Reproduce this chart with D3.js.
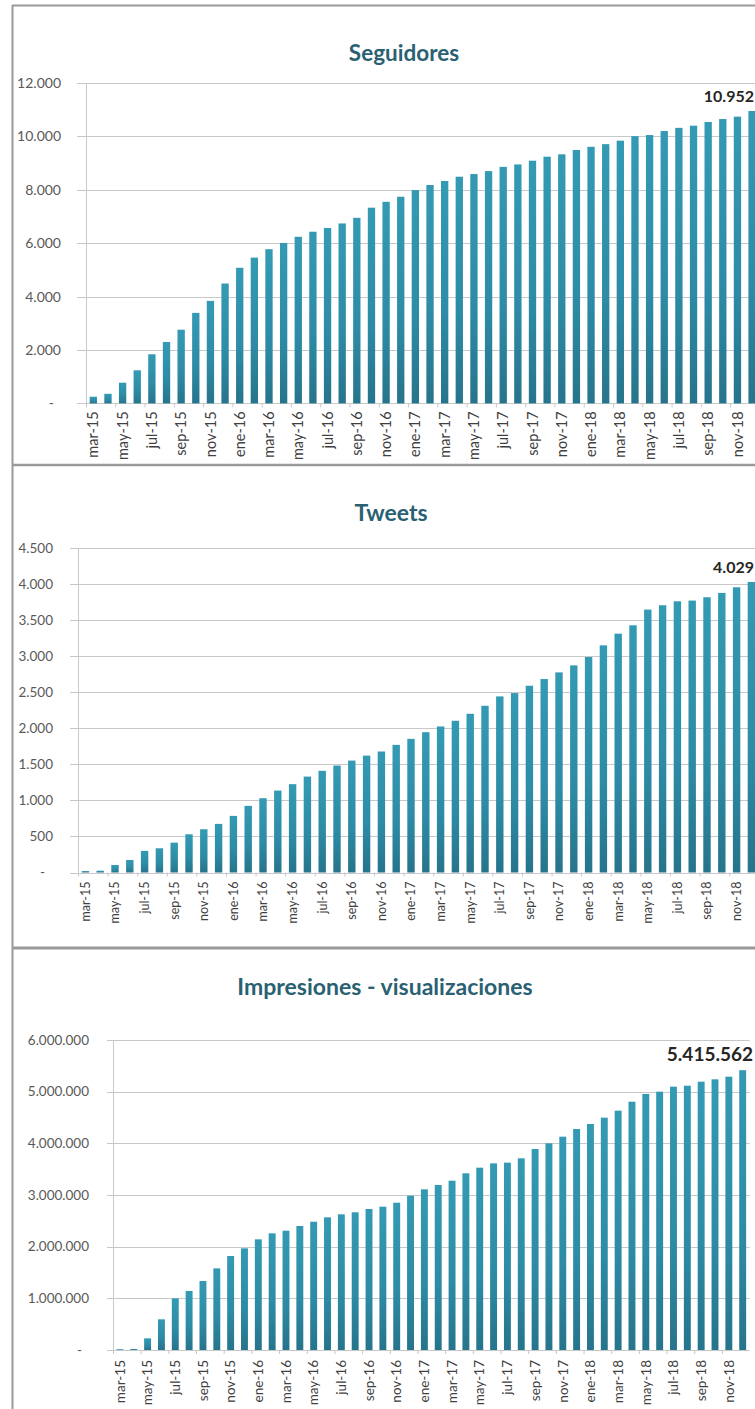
<!DOCTYPE html>
<html><head><meta charset="utf-8">
<script src="https://cdn.jsdelivr.net/npm/d3@7"></script>
<style>html,body{margin:0;padding:0;background:#fff;overflow:hidden}</style>
</head><body>
<svg id="chart" width="755" height="1409"></svg>
<script>
// ---- DATA ----
const meses = ["mar-15","abr-15","may-15","jun-15","jul-15","ago-15","sep-15","oct-15","nov-15","dic-15",
  "ene-16","feb-16","mar-16","abr-16","may-16","jun-16","jul-16","ago-16","sep-16","oct-16","nov-16","dic-16",
  "ene-17","feb-17","mar-17","abr-17","may-17","jun-17","jul-17","ago-17","sep-17","oct-17","nov-17","dic-17",
  "ene-18","feb-18","mar-18","abr-18","may-18","jun-18","jul-18","ago-18","sep-18","oct-18","nov-18","dic-18"];

const seguidores = [250,360,775,1240,1840,2300,2760,3390,3840,4490,
  5080,5460,5775,6010,6240,6430,6570,6740,6950,7330,7550,7740,
  7990,8180,8330,8490,8590,8700,8860,8950,9090,9240,9330,9490,
  9610,9710,9840,10010,10050,10200,10320,10400,10540,10650,10740,10952];

const tweets = [20,25,104,174,300,336,414,530,600,674,
  785,924,1030,1136,1225,1330,1410,1483,1552,1621,1678,1770,
  1853,1946,2025,2104,2201,2312,2442,2488,2590,2683,2775,2872,
  2988,3150,3312,3428,3646,3706,3761,3771,3817,3877,3955,4029];

const impresiones = [15000,20000,226000,594000,1000000,1142000,1335000,1580000,1819000,1968000,
  2142000,2258000,2309000,2400000,2483000,2568000,2626000,2665000,2729000,2774000,2851000,2987000,
  3110000,3194000,3277000,3420000,3529000,3613000,3626000,3710000,3890000,4000000,4129000,4277000,
  4374000,4497000,4632000,4806000,4955000,5000000,5097000,5116000,5193000,5239000,5290000,5415562];

const titulos = ["Seguidores","Tweets","Impresiones - visualizaciones"];
const ticksSeguidores = [0,2000,4000,6000,8000,10000,12000];
const ticksTweets = [0,500,1000,1500,2000,2500,3000,3500,4000,4500];
const ticksImpresiones = [0,1000000,2000000,3000000,4000000,5000000,6000000];

// ---- RENDER ----
const svg = d3.select("#chart");
const loc = d3.formatLocale({decimal:",", thousands:".", grouping:[3], currency:["",""]});
const fmt = loc.format(",.0f");
const FONT = "Lato, 'Open Sans', sans-serif";

const defs = svg.append("defs");
const grad = defs.append("linearGradient").attr("id","barGrad")
  .attr("x1",0).attr("y1",0).attr("x2",0).attr("y2",1);
grad.append("stop").attr("offset","0%").attr("stop-color","#349ab3");
grad.append("stop").attr("offset","60%").attr("stop-color","#2d8ba5");
grad.append("stop").attr("offset","100%").attr("stop-color","#26748b");

svg.append("rect").attr("width",755).attr("height",1409).attr("fill","#fff");

const panels = [
  {title:titulos[0], data:seguidores, ticks:ticksSeguidores, max:12000,
   titleX:404, titleY:61, titleSize:22.5,
   yTop:83, yBot:403.4, xL:86, xR:759.4, gridL:77, tickX:61, zeroX:54, tickSize:14,
   xlabSize:14.5, xlabOff:8, valSize:16, valRight:754},
  {title:titulos[1], data:tweets, ticks:ticksTweets, max:4500,
   titleX:391, titleY:521, titleSize:23,
   yTop:548, yBot:872.5, xL:78, xR:758.8, gridL:70, tickX:53, zeroX:45, tickSize:13.5,
   xlabSize:12.5, xlabOff:9, valSize:16, valRight:754},
  {title:titulos[2], data:impresiones, ticks:ticksImpresiones, max:6000000,
   titleX:385, titleY:995, titleSize:23,
   yTop:1040, yBot:1350, xL:113, xR:749.6, gridL:107, tickX:89, zeroX:82, tickSize:13.5,
   xlabSize:13.5, xlabOff:10, valSize:19, valRight:753}
];

panels.forEach(p => {
  const g = svg.append("g");
  const x = d3.scaleBand().domain(meses).range([p.xL, p.xR]).paddingInner(0.5).paddingOuter(0.25);
  const y = d3.scaleLinear().domain([0, p.max]).range([p.yBot, p.yTop]);

  g.selectAll(".grid").data(p.ticks).enter().append("line")
    .attr("x1", p.gridL).attr("x2", p.xR)
    .attr("y1", d => Math.round(y(d)) + 0.5).attr("y2", d => Math.round(y(d)) + 0.5)
    .attr("stroke", "#c8c8c8").attr("stroke-width", 1);
  g.append("line").attr("x1", p.xL + 0.5).attr("x2", p.xL + 0.5)
    .attr("y1", y(p.max)).attr("y2", p.yBot).attr("stroke", "#c8c8c8");
  const step = x.step();
  g.selectAll(".xt").data(meses.filter((m,i) => i % 2 === 0)).enter().append("line")
    .attr("x1", (d) => x(d) - step * 0.25 + 0.5)
    .attr("x2", (d) => x(d) - step * 0.25 + 0.5)
    .attr("y1", p.yBot).attr("y2", p.yBot + 4)
    .attr("stroke", "#c8c8c8");

  g.selectAll(".yl").data(p.ticks).enter().append("text")
    .attr("x", d => d === 0 ? p.zeroX : p.tickX)
    .attr("y", d => y(d)).attr("dy", "0.35em")
    .attr("text-anchor", "end")
    .attr("font-family", FONT).attr("font-size", p.tickSize)
    .attr("fill", "#595959")
    .text(d => d === 0 ? "-" : fmt(d));

  g.selectAll(".bar").data(p.data).enter().append("rect")
    .attr("x", (d,i) => x(meses[i]))
    .attr("width", x.bandwidth())
    .attr("y", d => y(d))
    .attr("height", d => p.yBot - y(d))
    .attr("fill", "url(#barGrad)");

  g.selectAll(".xl").data(meses.filter((m,i) => i % 2 === 0)).enter().append("text")
    .attr("transform", d => `translate(${x(d) + x.bandwidth()/2},${p.yBot + p.xlabOff}) rotate(-90)`)
    .attr("dy", "0.35em")
    .attr("text-anchor", "end")
    .attr("font-family", FONT).attr("font-size", p.xlabSize)
    .attr("fill", "#404040")
    .text(d => d);

  const last = p.data.length - 1;
  const cx = x(meses[last]) + x.bandwidth()/2;
  const vt = g.append("text")
    .attr("x", cx).attr("y", y(p.data[last]) - 9)
    .attr("text-anchor", "middle")
    .attr("font-family", FONT).attr("font-weight", "bold").attr("font-size", p.valSize)
    .attr("fill", "#262626")
    .text(fmt(p.data[last]));
  const w = vt.node().getComputedTextLength();
  if (cx + w/2 > p.valRight) vt.attr("x", p.valRight - w/2);

  g.append("text").attr("x", p.titleX).attr("y", p.titleY)
    .attr("text-anchor", "middle")
    .attr("font-family", FONT).attr("font-weight", "bold").attr("font-size", p.titleSize)
    .attr("fill", "#2a6172")
    .text(p.title);
});

const bc = "#9a9a9a";
svg.append("line").attr("x1",12).attr("x2",755).attr("y1",5.5).attr("y2",5.5).attr("stroke",bc).attr("stroke-width",2);
svg.append("line").attr("x1",12.5).attr("x2",12.5).attr("y1",5).attr("y2",1409).attr("stroke",bc).attr("stroke-width",2);
svg.append("line").attr("x1",12).attr("x2",755).attr("y1",465).attr("y2",465).attr("stroke",bc).attr("stroke-width",2.5);
svg.append("line").attr("x1",12).attr("x2",755).attr("y1",948).attr("y2",948).attr("stroke",bc).attr("stroke-width",3);
</script>
</body></html>
